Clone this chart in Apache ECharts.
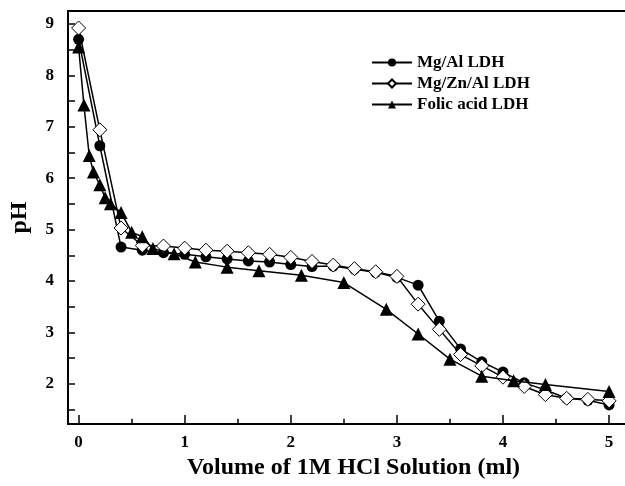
<!DOCTYPE html>
<html>
<head>
<meta charset="utf-8">
<script src="https://cdn.jsdelivr.net/npm/echarts@6/dist/echarts.min.js"></script>
<style>
  html, body { margin: 0; padding: 0; background: #fff; }
  #chart { width: 625px; height: 486px; }
</style>
</head>
<body>
<div id="chart"></div>
<script>
// Titration curves: pH against added volume of 1M HCl
const volMgAl = [0, 0.2, 0.4, 0.6, 0.8, 1.0, 1.2, 1.4, 1.6, 1.8, 2.0, 2.2, 2.4, 2.6, 2.8, 3.0, 3.2, 3.4, 3.6, 3.8, 4.0, 4.2, 4.4, 4.6, 4.8, 5.0];
const phMgAl  = [8.70, 6.63, 4.66, 4.60, 4.55, 4.52, 4.47, 4.43, 4.39, 4.37, 4.32, 4.28, 4.29, 4.23, 4.17, 4.07, 3.92, 3.22, 2.68, 2.43, 2.23, 2.02, 1.88, 1.72, 1.68, 1.59];

const volMgZnAl = [0, 0.2, 0.4, 0.6, 0.8, 1.0, 1.2, 1.4, 1.6, 1.8, 2.0, 2.2, 2.4, 2.6, 2.8, 3.0, 3.2, 3.4, 3.6, 3.8, 4.0, 4.2, 4.4, 4.6, 4.8, 5.0];
const phMgZnAl  = [8.92, 6.94, 5.03, 4.69, 4.68, 4.64, 4.60, 4.58, 4.55, 4.52, 4.46, 4.38, 4.31, 4.24, 4.18, 4.09, 3.55, 3.06, 2.57, 2.35, 2.13, 1.95, 1.79, 1.72, 1.70, 1.67];

const volFolic = [0, 0.05, 0.1, 0.14, 0.2, 0.25, 0.3, 0.4, 0.5, 0.6, 0.7, 0.9, 1.1, 1.4, 1.7, 2.1, 2.5, 2.9, 3.2, 3.5, 3.8, 4.1, 4.4, 5.0];
const phFolic  = [8.55, 7.42, 6.44, 6.12, 5.87, 5.62, 5.50, 5.33, 4.95, 4.86, 4.63, 4.53, 4.37, 4.27, 4.20, 4.11, 3.97, 3.45, 2.97, 2.48, 2.15, 2.06, 1.99, 1.85];

const xTickLabels = [0, 1, 2, 3, 4, 5];
const xHalfTicks = [0.5, 1.5, 2.5, 3.5, 4.5];
const yTickLabels = [2, 3, 4, 5, 6, 7, 8, 9];
const yTicks = [1.5, 2, 2.5, 3, 3.5, 4, 4.5, 5, 5.5, 6, 6.5, 7, 7.5, 8, 8.5, 9];

const pairs = (xs, ys) => xs.map((x, i) => [x, ys[i]]);

const FONT = '"Liberation Serif", "Times New Roman", serif';
const X_MIN = -0.1, X_MAX = 5.15;
const Y_MIN = 1.22, Y_MAX = 9.25;

const chart = echarts.init(document.getElementById('chart'), null, { renderer: 'canvas' });

const lineStyle = { color: '#000', width: 1.5 };

// short inward ticks at the half-millilitre marks of the volume axis
const halfTickLines = xHalfTicks.map(v => [
  { coord: [v, Y_MIN] },
  { coord: [v, Y_MIN + 0.1] }
]);

chart.setOption({
  backgroundColor: '#fff',
  animation: false,
  grid: { left: 66, top: 11, right: 0, bottom: 62, show: false },
  legend: {
    orient: 'vertical',
    left: 366,
    top: 49,
    itemWidth: 40,
    itemHeight: 10,
    itemGap: 4,
    textStyle: { fontFamily: FONT, fontWeight: 'bold', fontSize: 17, color: '#000' },
    data: ['Mg/Al LDH', 'Mg/Zn/Al LDH', 'Folic acid LDH']
  },
  xAxis: [
    {
      type: 'value',
      position: 'bottom',
      min: X_MIN,
      max: X_MAX,
      name: 'Volume of 1M HCl Solution (ml)',
      nameLocation: 'middle',
      nameGap: 30,
      nameTextStyle: { fontFamily: FONT, fontWeight: 'bold', fontSize: 24, color: '#000',
        padding: [0, 0, 0, 14] },
      axisLine: { show: true, onZero: false, lineStyle: { color: '#000', width: 2 } },
      axisTick: { show: true, inside: true, length: 9, lineStyle: { color: '#000', width: 1.5 },
        customValues: xTickLabels },
      axisLabel: { fontFamily: FONT, fontWeight: 'bold', fontSize: 17, color: '#000', margin: 10,
        customValues: xTickLabels },
      splitLine: { show: false }
    },
    {
      // top frame edge
      type: 'value',
      position: 'top',
      min: X_MIN,
      max: X_MAX,
      axisLine: { show: true, onZero: false, lineStyle: { color: '#000', width: 2 } },
      axisTick: { show: false },
      axisLabel: { show: false },
      splitLine: { show: false }
    }
  ],
  yAxis: {
    type: 'value',
    min: Y_MIN,
    max: Y_MAX,
    name: 'pH',
    nameLocation: 'middle',
    nameGap: 36,
    nameTextStyle: { fontFamily: FONT, fontWeight: 'bold', fontSize: 24, color: '#000' },
    axisLine: { show: true, onZero: false, lineStyle: { color: '#000', width: 2 } },
    axisTick: { show: true, inside: true, length: 7, lineStyle: { color: '#000', width: 1.5 },
      customValues: yTicks },
    axisLabel: { fontFamily: FONT, fontWeight: 'bold', fontSize: 17, color: '#000', margin: 14,
      customValues: yTickLabels },
    splitLine: { show: false }
  },
  series: [
    {
      name: 'Mg/Al LDH',
      type: 'line',
      data: pairs(volMgAl, phMgAl),
      symbol: 'circle',
      symbolSize: 11,
      lineStyle: lineStyle,
      itemStyle: { color: '#000', borderColor: '#000', borderWidth: 0 },
      markLine: {
        silent: true,
        symbol: 'none',
        label: { show: false },
        lineStyle: { color: '#000', width: 1.5, type: 'solid' },
        data: halfTickLines
      },
      z: 2
    },
    {
      name: 'Mg/Zn/Al LDH',
      type: 'line',
      data: pairs(volMgZnAl, phMgZnAl),
      symbol: 'diamond',
      symbolSize: 14,
      lineStyle: lineStyle,
      itemStyle: { color: '#fff', borderColor: '#000', borderWidth: 1 },
      z: 3
    },
    {
      name: 'Folic acid LDH',
      type: 'line',
      data: pairs(volFolic, phFolic),
      symbol: 'triangle',
      symbolSize: 13,
      lineStyle: lineStyle,
      itemStyle: { color: '#000', borderColor: '#000', borderWidth: 0 },
      z: 4
    }
  ]
});
</script>
</body>
</html>
